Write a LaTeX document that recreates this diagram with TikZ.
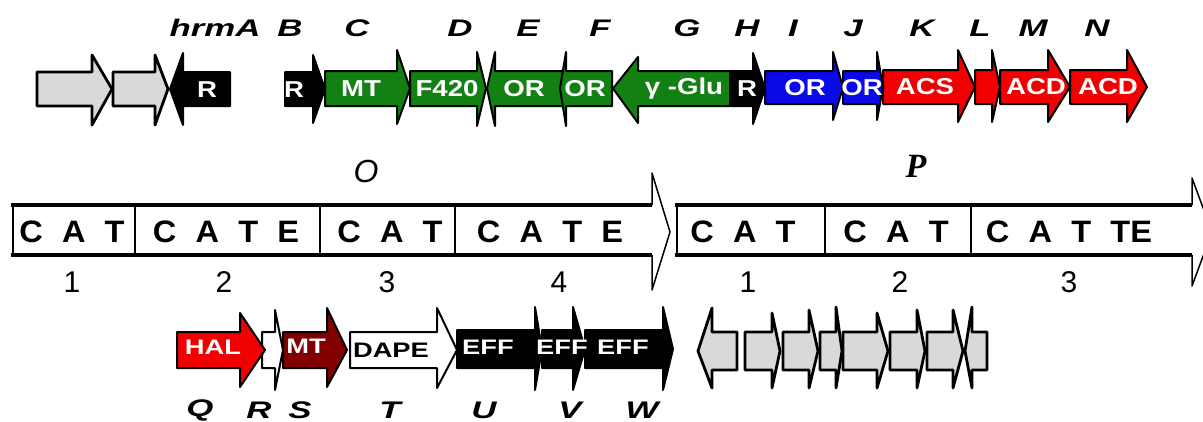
\documentclass[tikz,border=0pt]{standalone}
\usepackage{fontspec}
\setmainfont{Liberation Sans}
\newfontfamily\labf[FakeStretch=1.45]{Liberation Sans}
\newfontfamily\genf[FakeStretch=1.2]{Liberation Sans}
\newfontfamily\btf[FakeStretch=1.3]{Liberation Sans}
\newfontfamily\catf[FakeStretch=1.05]{Liberation Sans}
\newfontfamily\serf{Liberation Serif}
\definecolor{ggreen}{RGB}{18,128,18}
\definecolor{gblue}{RGB}{10,10,230}
\definecolor{gred}{RGB}{240,0,0}
\definecolor{gdark}{RGB}{130,0,0}
\definecolor{ggray}{RGB}{217,217,217}
\newcommand\gene[8]{\draw[#1] (#2,#5) -- (#3,#5) -- (#3,#7) -- (#4,{(#5+#6)/2}) -- (#3,#8) -- (#3,#6) -- (#2,#6) -- cycle;}
\newcommand\lgap{\hspace{0.62em}}
\tikzset{
  arr/.style={draw=black, line width=2pt, line join=round},
  garr/.style={arr, fill=ggray, line width=2.8pt},
  glab/.style={font=\labf\bfseries\itshape\fontsize{24}{24}\selectfont, inner sep=0pt},
  gtxt/.style={text=white, font=\genf\bfseries\fontsize{23}{23}\selectfont, inner sep=0pt},
  btxt/.style={text=white, font=\btf\bfseries\fontsize{21}{21}\selectfont, inner sep=0pt},
  cattxt/.style={font=\catf\bfseries\fontsize{31}{31}\selectfont, inner sep=0pt},
  numtxt/.style={font=\fontsize{30}{30}\selectfont, inner sep=0pt},
}
\begin{document}
\begin{tikzpicture}[x=1pt,y=-1pt]
\clip (0,0) rectangle (1203,421);
\fill[white] (0,0) rectangle (1203,421);
% ---------- top row ----------
\gene{garr}{37}{92}{112}{72}{106}{55}{125}
\gene{garr}{113}{155}{168}{72}{106}{55}{125}
\gene{arr,fill=black}{230}{183}{170}{72}{106}{53}{125}
\gene{arr,fill=black}{285}{313}{325}{72}{106}{55}{123}
\gene{arr,fill=ggreen}{325}{397}{410}{71}{106}{50}{124}
\gene{arr,fill=ggreen}{410}{477}{486}{71}{106}{52}{126}
\gene{arr,fill=ggreen}{563}{495}{487}{71}{106}{52}{126}
\gene{arr,fill=ggreen}{612}{566}{560}{71}{106}{52}{126}
\gene{arr,fill=ggreen}{730}{638}{613}{71}{106}{57}{123}
\gene{arr,fill=black}{730}{753}{765}{71}{106}{53}{124}
\gene{arr,fill=gblue}{765}{833}{843}{71}{104}{52}{120}
\gene{arr,fill=gblue}{843}{877}{883}{71}{104}{52}{120}
\gene{arr,fill=gred}{883}{958}{975}{70}{104}{50}{122}
\gene{arr,fill=gred}{975}{992}{1000}{70}{104}{50}{122}
\gene{arr,fill=gred}{1000}{1048}{1070}{70}{104}{50}{122}
\gene{arr,fill=gred}{1070}{1127}{1147}{70}{104}{50}{122}
\node[gtxt] (tR1) at (207,90) {R};
\node[gtxt] (tR2) at (294,90) {R};
\node[gtxt] (tMT) at (361,89) {MT};
\node[gtxt] (tF) at (447,89) {F420};
\node[gtxt] (tOR1) at (524,89) {OR};
\node[gtxt] (tOR2) at (585,89) {OR};
\node[gtxt] (tGlu) at (684,89) {γ -Glu};
\node[gtxt] (tR3) at (747,89) {R};
\node[gtxt] (tOR3) at (805,88) {OR};
\node[gtxt] (tOR4) at (862,88) {OR};
\node[gtxt] (tACS) at (925,87) {ACS};
\node[gtxt] (tACD1) at (1036,87) {ACD};
\node[gtxt] (tACD2) at (1108,87) {ACD};
\node[glab] (lA) at (215,28) {hrmA};
\node[glab] (lB) at (290,28) {B};
\node[glab] (lC) at (357,28) {C};
\node[glab] (lD) at (460,28) {D};
\node[glab] (lE) at (528,28) {E};
\node[glab] (lF) at (600,28) {F};
\node[glab] (lG) at (687,28) {G};
\node[glab] (lH) at (747,28) {H};
\node[glab] (lI) at (793,28) {I};
\node[glab] (lJ) at (853,28) {J};
\node[glab] (lK) at (922,28) {K};
\node[glab] (lL) at (980,28) {L};
\node[glab] (lM) at (1033,28) {M};
\node[glab] (lN) at (1097,28) {N};
% ---------- middle row ----------
\fill[white] (13,205) rectangle (652,255);
\draw[line width=1.5pt, line join=round, fill=white] (652,205) -- (652,173) -- (670,232) -- (652,290) -- (652,255);
\draw[line width=1.8pt] (13,205) -- (13,255);
\draw[line width=4pt] (11,205) -- (652,205);
\draw[line width=4pt] (11,255) -- (652,255);
\draw[line width=1.5pt] (135,205) -- (135,255);
\draw[line width=1.5pt] (320,205) -- (320,255);
\draw[line width=1.5pt] (455,205) -- (455,255);
\draw[line width=1.5pt, line join=round, fill=white] (1192,205) -- (1192,178) -- (1212,232) -- (1192,286) -- (1192,255);
\draw[line width=1.8pt] (677,205) -- (677,255);
\draw[line width=4pt] (675,205) -- (1192,205);
\draw[line width=4pt] (675,255) -- (1192,255);
\draw[line width=1.5pt] (825,205) -- (825,255);
\draw[line width=1.5pt] (971,205) -- (971,255);
\node[font=\itshape\fontsize{32}{32}\selectfont, inner sep=0pt] (lO) at (366,171) {O};
\node[font=\serf\bfseries\itshape\fontsize{34}{34}\selectfont, inner sep=0pt] (lP) at (916,166) {P};
\node[cattxt] (o1) at (72,232) {C\lgap A\lgap T};
\node[cattxt] (o2) at (226,232) {C\lgap A\lgap T\lgap E};
\node[cattxt] (o3) at (390,232) {C\lgap A\lgap T};
\node[cattxt] (o4) at (550,232) {C\lgap A\lgap T\lgap E};
\node[cattxt] (p1) at (743,232) {C\lgap A\lgap T};
\node[cattxt] (p2) at (896,232) {C\lgap A\lgap T};
\node[cattxt] (p3) at (1069,232) {C\lgap A\lgap T\lgap TE};
\node[numtxt] (n1) at (72,282) {1};
\node[numtxt] (n2) at (224,282) {2};
\node[numtxt] (n3) at (387,282) {3};
\node[numtxt] (n4) at (559,282) {4};
\node[numtxt] (m1) at (748,282) {1};
\node[numtxt] (m2) at (900,282) {2};
\node[numtxt] (m3) at (1069,282) {3};
% ---------- bottom row ----------
\gene{arr,fill=white}{262}{275}{283}{332}{368}{310}{390}
\gene{arr,fill=gred}{177}{240}{265}{332}{368}{313}{387}
\gene{arr,fill=gdark}{283}{327}{347}{332}{368}{308}{387}
\gene{arr,fill=white}{350}{437}{457}{332}{368}{308}{388}
\gene{arr,fill=black}{457}{535}{542}{330}{368}{307}{390}
\gene{arr,fill=black}{542}{573}{585}{330}{368}{307}{390}
\gene{arr,fill=black}{585}{663}{673}{330}{368}{307}{390}
\node[btxt] (bHAL) at (213,347) {HAL};
\node[btxt] (bMT) at (306,346) {MT};
\node[btxt, text=black] (bDAPE) at (391,350) {DAPE};
\node[btxt] (bE1) at (488,347) {EFF};
\node[btxt] (bE2) at (562,347) {EFF};
\node[btxt] (bE3) at (623,347) {EFF};
\node[glab] (lQ) at (200,410) {Q};
\node[glab] (lR) at (259,410) {R};
\node[glab] (lS) at (300,410) {S};
\node[glab] (lT) at (390,410) {T};
\node[glab] (lU) at (484,410) {U};
\node[glab] (lV) at (570,410) {V};
\node[glab] (lW) at (642,410) {W};
\gene{garr}{737}{712}{698}{332}{370}{308}{388}
\gene{garr}{745}{772}{780}{332}{370}{313}{388}
\gene{garr}{783}{809}{818}{332}{370}{310}{388}
\gene{garr}{820}{836}{842}{332}{370}{307}{388}
\gene{garr}{843}{877}{888}{332}{370}{313}{388}
\gene{garr}{890}{917}{925}{332}{370}{310}{388}
\gene{garr}{927}{953}{963}{332}{370}{310}{388}
\gene{garr}{987}{972}{965}{332}{370}{307}{388}
\end{tikzpicture}
\end{document}
